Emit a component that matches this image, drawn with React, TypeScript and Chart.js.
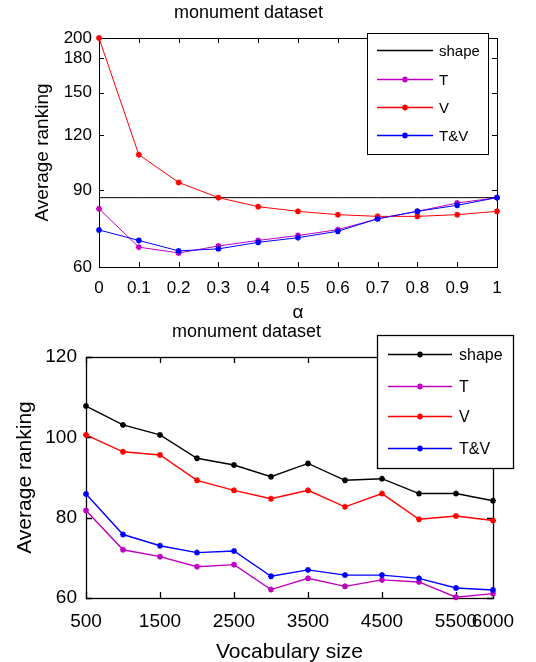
import React, { useEffect, useRef } from 'react';
import { Chart, registerables } from 'chart.js';

Chart.register(...registerables);

const FONT = "'Liberation Sans', Arial, sans-serif";
Chart.defaults.font.family = FONT;
Chart.defaults.color = '#000';

// ---------- data: top chart (alpha) ----------
const alphas = [0, 0.1, 0.2, 0.3, 0.4, 0.5, 0.6, 0.7, 0.8, 0.9, 1];
const topShape = [86.4, 86.4, 86.4, 86.4, 86.4, 86.4, 86.4, 86.4, 86.4, 86.4, 86.4];
const topT = [81.5, 66.6, 64.6, 67.0, 69.0, 70.8, 73.0, 77.3, 80.4, 84.0, 86.4];
const topV = [200, 108.3, 93.6, 86.4, 82.4, 80.4, 79.0, 78.3, 78.3, 79.0, 80.4];
const topTV = [72.9, 69.0, 65.3, 66.0, 68.3, 70.0, 72.4, 77.3, 80.4, 83.0, 86.4];
const topXTicks = [0, 0.1, 0.2, 0.3, 0.4, 0.5, 0.6, 0.7, 0.8, 0.9, 1];
const topYTicks = [60, 90, 120, 150, 180, 200];

// ---------- data: bottom chart (vocabulary size) ----------
const vocab = [500, 1000, 1500, 2000, 2500, 3000, 3500, 4000, 4500, 5000, 5500, 6000];
const botShape = [107.8, 103.1, 100.6, 94.8, 93.1, 90.2, 93.5, 89.3, 89.7, 86.0, 86.0, 84.2];
const botT = [81.8, 72.0, 70.3, 67.8, 68.3, 62.1, 64.9, 62.9, 64.5, 64.0, 60.2, 61.1];
const botV = [100.6, 96.4, 95.6, 89.3, 86.8, 84.7, 86.8, 82.7, 86.0, 79.6, 80.4, 79.3];
const botTV = [85.9, 75.8, 73.0, 71.3, 71.7, 65.4, 67.0, 65.7, 65.7, 64.9, 62.5, 62.0];
const botXTicks = [500, 1500, 2500, 3500, 4500, 5500, 6000];
const botYTicks = [60, 80, 100, 120];

const seriesNames = ['shape', 'T', 'V', 'T&V'];
const seriesColors = ['#000000', '#bf00bf', '#ff0000', '#0000ff'];

const toXY = (xs: number[], ys: number[]) => xs.map((x, i) => ({ x, y: ys[i] }));

function drawStar(ctx: CanvasRenderingContext2D, x: number, y: number, r: number, color: string, lw: number) {
  ctx.save();
  ctx.strokeStyle = color;
  ctx.lineWidth = lw;
  ctx.beginPath();
  for (let k = 0; k < 4; k++) {
    const a = (k * Math.PI) / 4;
    ctx.moveTo(x - r * Math.cos(a), y - r * Math.sin(a));
    ctx.lineTo(x + r * Math.cos(a), y + r * Math.sin(a));
  }
  ctx.stroke();
  ctx.restore();
}

const framePlugin = {
  id: 'matlabFrame',
  beforeDatasetsDraw(chart: any, _args: any, opts: any) {
    const { ctx, chartArea } = chart;
    const { left, right, top, bottom } = chartArea;
    const len = opts.tickLen || 5;
    ctx.save();
    ctx.strokeStyle = '#000';
    ctx.lineWidth = opts.lineWidth || 1;
    ctx.beginPath();
    const xs = chart.scales.x;
    xs.ticks.forEach((t: any) => {
      const px = Math.round(xs.getPixelForValue(t.value)) + 0.5;
      ctx.moveTo(px, bottom);
      ctx.lineTo(px, bottom - len);
      ctx.moveTo(px, top);
      ctx.lineTo(px, top + len);
    });
    const ys = chart.scales.y;
    ys.ticks.forEach((t: any) => {
      const py = Math.round(ys.getPixelForValue(t.value)) + 0.5;
      ctx.moveTo(left, py);
      ctx.lineTo(left + len, py);
      ctx.moveTo(right, py);
      ctx.lineTo(right - len, py);
    });
    ctx.stroke();
    ctx.strokeRect(Math.round(left) + 0.5, Math.round(top) + 0.5, Math.round(right - left), Math.round(bottom - top));
    ctx.restore();
  },
  afterDraw(chart: any, _args: any, opts: any) {
    const lg = opts.legend;
    if (!lg) return;
    const { ctx } = chart;
    ctx.save();
    ctx.fillStyle = '#fff';
    ctx.fillRect(lg.x1, lg.y1, lg.x2 - lg.x1, lg.y2 - lg.y1);
    ctx.strokeStyle = '#000';
    ctx.lineWidth = opts.lineWidth || 1;
    ctx.strokeRect(lg.x1 + 0.5, lg.y1 + 0.5, lg.x2 - lg.x1, lg.y2 - lg.y1);
    chart.data.datasets.forEach((ds: any, i: number) => {
      const y = lg.rows[i] + 0.5;
      ctx.strokeStyle = ds.borderColor;
      ctx.lineWidth = lg.lineWidth;
      ctx.beginPath();
      ctx.moveTo(lg.lineX1, y);
      ctx.lineTo(lg.lineX2, y);
      ctx.stroke();
      if (ds.pointRadius > 0) {
        drawStar(ctx, (lg.lineX1 + lg.lineX2) / 2, y, ds.pointRadius, ds.borderColor, ds.pointBorderWidth);
      }
      ctx.fillStyle = '#000';
      ctx.font = `${lg.fontSize}px ${FONT}`;
      ctx.textAlign = 'left';
      ctx.textBaseline = 'middle';
      ctx.fillText(ds.label, lg.textX, y + 1);
    });
    ctx.restore();
  },
};

function makeDatasets(xs: number[], series: number[][], lineWidth: number, markerOnFirst: boolean) {
  return series.map((ys, i) => ({
    label: seriesNames[i],
    data: toXY(xs, ys),
    borderColor: seriesColors[i],
    backgroundColor: seriesColors[i],
    borderWidth: lineWidth,
    pointStyle: 'star',
    pointRadius: i === 0 && !markerOnFirst ? 0 : 3,
    pointBorderWidth: 1.6,
    pointHoverRadius: 3,
    tension: 0,
    clip: false,
    order: series.length - i,
  }));
}

function TopChart() {
  const ref = useRef<HTMLCanvasElement>(null);
  useEffect(() => {
    const chart = new Chart(ref.current as HTMLCanvasElement, {
      type: 'line',
      data: { datasets: makeDatasets(alphas, [topShape, topT, topV, topTV], 1, false) as any },
      plugins: [framePlugin],
      options: {
        responsive: false,
        animation: false,
        events: [],
        layout: { padding: { left: 0, right: 39, top: 0, bottom: 0 } },
        plugins: {
          legend: { display: false },
          tooltip: { enabled: false },
          title: {
            display: true,
            text: 'monument dataset',
            color: '#000',
            font: { size: 18, weight: 'normal', family: FONT },
            padding: { top: 2.5, bottom: 13.9 },
          },
          matlabFrame: {
            tickLen: 5,
            lineWidth: 1,
            legend: {
              x1: 367, y1: 33, x2: 488, y2: 154,
              rows: [50, 79, 107, 135],
              lineX1: 377, lineX2: 433, textX: 439,
              fontSize: 15, lineWidth: 1.3,
            },
          },
        } as any,
        scales: {
          x: {
            type: 'linear',
            min: 0,
            max: 1,
            afterBuildTicks: (s: any) => { s.ticks = topXTicks.map((v) => ({ value: v })); },
            afterFit: (s: any) => { s.height = 63; s.paddingLeft = 0; s.paddingRight = 0; },
            ticks: {
              autoSkip: false,
              maxRotation: 0,
              padding: 11,
              color: '#000',
              font: { size: 17 },
              callback: (v: any) => String(Math.round(Number(v) * 10) / 10),
            },
            grid: { display: false, drawTicks: false },
            border: { display: false },
            title: { display: true, text: 'α', color: '#000', font: { size: 19 }, padding: { top: 0, bottom: 6 } },
          },
          y: {
            type: 'logarithmic',
            min: 60,
            max: 200,
            afterBuildTicks: (s: any) => { s.ticks = topYTicks.map((v) => ({ value: v })); },
            afterFit: (s: any) => { s.width = 99; },
            ticks: {
              autoSkip: false,
              padding: 7,
              color: '#000',
              font: { size: 17 },
              callback: (v: any) => String(v),
            },
            grid: { display: false, drawTicks: false },
            border: { display: false },
            title: { display: true, text: 'Average ranking', color: '#000', font: { size: 19 }, padding: { top: 31.6, bottom: 0 } },
          },
        },
      } as any,
    });
    return () => chart.destroy();
  }, []);
  return <canvas ref={ref} width={536} height={330} style={{ position: 'absolute', left: 0, top: 0 }} />;
}

function BottomChart() {
  const ref = useRef<HTMLCanvasElement>(null);
  useEffect(() => {
    const chart = new Chart(ref.current as HTMLCanvasElement, {
      type: 'line',
      data: { datasets: makeDatasets(vocab, [botShape, botT, botV, botTV], 1.4, true) as any },
      plugins: [framePlugin],
      options: {
        responsive: false,
        animation: false,
        events: [],
        layout: { padding: { left: 0, right: 43, top: 0, bottom: 0 } },
        plugins: {
          legend: { display: false },
          tooltip: { enabled: false },
          title: {
            display: true,
            text: 'monument dataset',
            color: '#000',
            font: { size: 18, weight: 'normal', family: FONT },
            padding: { top: 3, bottom: 14.4 },
          },
          matlabFrame: {
            tickLen: 6,
            lineWidth: 1.3,
            legend: {
              x1: 377, y1: 17, x2: 513, y2: 150,
              rows: [36, 68, 98, 130],
              lineX1: 388, lineX2: 452, textX: 459,
              fontSize: 16, lineWidth: 1.5,
            },
          },
        } as any,
        scales: {
          x: {
            type: 'linear',
            min: 500,
            max: 6000,
            afterBuildTicks: (s: any) => { s.ticks = botXTicks.map((v) => ({ value: v })); },
            afterFit: (s: any) => { s.height = 64; s.paddingLeft = 0; s.paddingRight = 0; },
            ticks: {
              autoSkip: false,
              maxRotation: 0,
              padding: 12,
              color: '#000',
              font: { size: 19 },
              callback: (v: any) => String(v),
            },
            grid: { display: false, drawTicks: false },
            border: { display: false },
            title: { display: true, text: 'Vocabulary size', color: '#000', font: { size: 21 }, padding: { top: 0, bottom: -2.5 } },
          },
          y: {
            type: 'linear',
            min: 60,
            max: 120,
            afterBuildTicks: (s: any) => { s.ticks = botYTicks.map((v) => ({ value: v })); },
            afterFit: (s: any) => { s.width = 86; },
            ticks: {
              autoSkip: false,
              padding: 9,
              color: '#000',
              font: { size: 19 },
              callback: (v: any) => String(v),
            },
            grid: { display: false, drawTicks: false },
            border: { display: false },
            title: { display: true, text: 'Average ranking', color: '#000', font: { size: 21 }, padding: { top: 12.4, bottom: 0 } },
          },
        },
      } as any,
    });
    return () => chart.destroy();
  }, []);
  return <canvas ref={ref} width={536} height={344} style={{ position: 'absolute', left: 0, top: 318 }} />;
}

export default function App() {
  return (
    <div style={{ position: 'absolute', left: 0, top: 0, width: 536, height: 662, overflow: 'hidden', background: '#fff' }}>
      <TopChart />
      <BottomChart />
    </div>
  );
}
